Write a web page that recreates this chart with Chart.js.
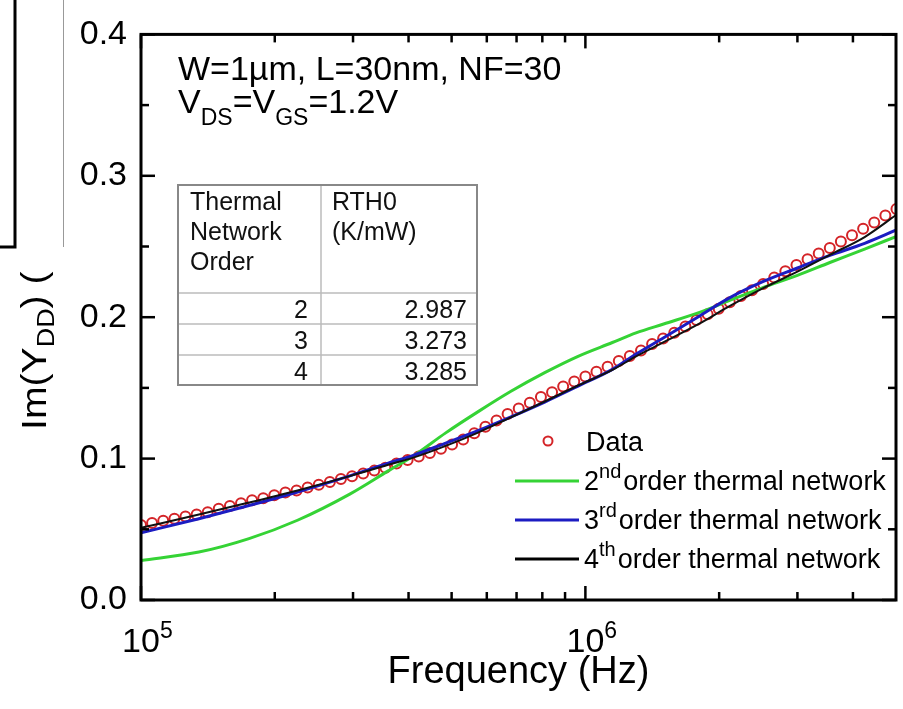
<!DOCTYPE html>
<html>
<head>
<meta charset="utf-8">
<script src="https://cdn.jsdelivr.net/npm/chart.js@4.4.0/dist/chart.umd.min.js"></script>
<style>
  html, body { margin: 0; padding: 0; background: #fff; }
  #wrap { width: 903px; height: 709px; }
</style>
</head>
<body>
<div id="wrap"><canvas id="chart" width="903" height="709"></canvas></div>
<script>
const FONT = '"Liberation Sans", Arial, Helvetica, sans-serif';

// measured points (Hz, mS)
const dataFreq = [
  1.000e5, 1.059e5, 1.122e5, 1.189e5, 1.259e5, 1.334e5, 1.413e5, 1.496e5, 1.585e5, 1.679e5,
  1.778e5, 1.884e5, 1.995e5, 2.113e5, 2.239e5, 2.371e5, 2.512e5, 2.661e5, 2.818e5, 2.985e5,
  3.162e5, 3.350e5, 3.548e5, 3.758e5, 3.981e5, 4.217e5, 4.467e5, 4.732e5, 5.012e5, 5.309e5,
  5.623e5, 5.957e5, 6.310e5, 6.683e5, 7.079e5, 7.499e5, 7.943e5, 8.414e5, 8.913e5, 9.441e5,
  1.000e6, 1.059e6, 1.122e6, 1.189e6, 1.259e6, 1.334e6, 1.413e6, 1.496e6, 1.585e6, 1.679e6,
  1.778e6, 1.884e6, 1.995e6, 2.113e6, 2.239e6, 2.371e6, 2.512e6, 2.661e6, 2.818e6, 2.985e6,
  3.162e6, 3.350e6, 3.548e6, 3.758e6, 3.981e6, 4.217e6, 4.467e6, 4.732e6, 5.012e6
];
const dataIm = [
  0.053, 0.0545, 0.056, 0.0575, 0.059, 0.0605, 0.062, 0.0645, 0.0665, 0.0685,
  0.0705, 0.072, 0.074, 0.076, 0.0775, 0.0795, 0.0815, 0.0835, 0.0855, 0.0875,
  0.0895, 0.0915, 0.0935, 0.0965, 0.099, 0.1015, 0.104, 0.107, 0.110, 0.1135,
  0.118, 0.1225, 0.127, 0.1315, 0.1355, 0.1395, 0.1435, 0.147, 0.151, 0.1545,
  0.158, 0.1615, 0.165, 0.169, 0.1725, 0.1765, 0.181, 0.185, 0.189, 0.1935,
  0.198, 0.202, 0.206, 0.2105, 0.215, 0.219, 0.2235, 0.228, 0.2325, 0.237,
  0.241, 0.245, 0.249, 0.2535, 0.258, 0.2625, 0.267, 0.272, 0.2765
];

// fitted curves
const fitFreq = [
  1.0e5, 1.35e5, 1.75e5, 2.25e5, 2.95e5, 3.6e5, 4.1e5, 4.85e5, 5.75e5, 6.8e5, 8.1e5,
  9.6e5, 1.15e6, 1.3e6, 1.5e6, 1.8e6, 2.1e6, 2.5e6, 3.0e6, 3.55e6, 4.25e6, 5.0e6
];
const fit2nd = [
  0.028, 0.0339, 0.0434, 0.0564, 0.0749, 0.0913, 0.1019, 0.1182, 0.1334, 0.1476, 0.1608,
  0.1722, 0.1821, 0.1889, 0.1952, 0.2032, 0.2115, 0.2207, 0.2296, 0.2387, 0.2482, 0.2570
];
const fit3rd = [
  0.0475, 0.0575, 0.0668, 0.0764, 0.0878, 0.0968, 0.1023, 0.1110, 0.1199, 0.1295, 0.1400,
  0.1511, 0.1631, 0.1739, 0.1855, 0.2005, 0.2133, 0.2249, 0.2348, 0.2437, 0.2522, 0.2615
];
const fit4th = [
  0.051, 0.0604, 0.0689, 0.0775, 0.0876, 0.0956, 0.1007, 0.1090, 0.1186, 0.1292, 0.1404,
  0.1515, 0.1627, 0.1723, 0.1823, 0.1952, 0.2074, 0.2202, 0.2322, 0.2441, 0.2567, 0.2722
];

const yMajor = [0, 0.1, 0.2, 0.3, 0.4];
const yMinor = [0.05, 0.15, 0.25, 0.35];
const xMajor = [1e5, 1e6];
const xExp = ['5', '6'];
const xMinor = [2e5, 3e5, 4e5, 5e5, 6e5, 7e5, 8e5, 9e5, 2e6, 3e6, 4e6];

const tableOrders = ['2', '3', '4'];
const tableRth = ['2.987', '3.273', '3.285'];

const legendSup = ['nd', 'rd', 'th'];
const legendNum = ['2', '3', '4'];

const toXY = (xs, ys) => xs.map((x, i) => ({ x: x, y: ys[i] }));

// draws a row of text pieces, each {t, size, dy}
function drawRuns(ctx, x, y, runs) {
  runs.forEach(r => {
    ctx.font = r.size + 'px ' + FONT;
    ctx.fillText(r.t, x, y + (r.dy || 0));
    x += ctx.measureText(r.t).width + (r.gap || 0);
  });
  return x;
}

const decor = {
  id: 'decor',
  afterDraw(chart) {
    const ctx = chart.ctx;
    const a = chart.chartArea;
    const xs = chart.scales.x;
    const ys = chart.scales.y;
    ctx.save();
    ctx.fillStyle = '#000';
    ctx.strokeStyle = '#000';

    // frame
    ctx.lineWidth = 3;
    ctx.strokeRect(a.left, a.top, a.right - a.left, a.bottom - a.top);

    // inward ticks on all sides
    const seg = (x1, y1, x2, y2) => { ctx.beginPath(); ctx.moveTo(x1, y1); ctx.lineTo(x2, y2); ctx.stroke(); };
    ctx.lineWidth = 2.5;
    xMajor.forEach(v => { const p = xs.getPixelForValue(v); seg(p, a.bottom, p, a.bottom - 14); seg(p, a.top, p, a.top + 14); });
    xMinor.forEach(v => { const p = xs.getPixelForValue(v); seg(p, a.bottom, p, a.bottom - 8); seg(p, a.top, p, a.top + 8); });
    yMajor.forEach(v => { const p = ys.getPixelForValue(v); seg(a.left, p, a.left + 14, p); seg(a.right, p, a.right - 14, p); });
    yMinor.forEach(v => { const p = ys.getPixelForValue(v); seg(a.left, p, a.left + 8, p); seg(a.right, p, a.right - 8, p); });

    // x tick labels 10^n
    ctx.textBaseline = 'alphabetic';
    ctx.textAlign = 'left';
    xMajor.forEach((v, i) => {
      const p = xs.getPixelForValue(v);
      ctx.font = '34px ' + FONT;
      const w = ctx.measureText('10').width;
      drawRuns(ctx, p - w / 2, 652, [{ t: '10', size: 34 }, { t: xExp[i], size: 23, dy: -14 }]);
    });

    // y axis title, partly hidden under the box at top-left
    ctx.save();
    ctx.translate(46, 430);
    ctx.rotate(-Math.PI / 2);
    ctx.scale(1.12, 1);
    drawRuns(ctx, 0, 0, [
      { t: 'Im(Y', size: 35 }, { t: 'DD', size: 24, dy: 8 }, { t: ') (mS)', size: 35 }
    ]);
    ctx.restore();
    ctx.fillStyle = '#fff';
    ctx.fillRect(0, 0, 66, 270);
    ctx.fillStyle = '#000';
    ctx.lineWidth = 3;
    ctx.beginPath(); ctx.moveTo(15, 0); ctx.lineTo(15, 247); ctx.lineTo(0, 247); ctx.stroke();
    ctx.strokeStyle = '#999';
    ctx.lineWidth = 1;
    seg(63.5, 0, 63.5, 247);
    ctx.strokeStyle = '#000';

    // device annotation
    drawRuns(ctx, 178, 80, [{ t: 'W=1\u00b5m, L=30nm, NF=30', size: 34 }]);
    drawRuns(ctx, 178, 113, [
      { t: 'V', size: 34 }, { t: 'DS', size: 23, dy: 12 }, { t: '=V', size: 34 },
      { t: 'GS', size: 23, dy: 12 }, { t: '=1.2V', size: 34 }
    ]);

    // RTH0 table
    const tl = 178, tm = 321, tr = 477;
    const rowsY = [185, 293, 324, 355, 385];
    ctx.fillStyle = '#fff';
    ctx.fillRect(tl, rowsY[0], tr - tl, rowsY[4] - rowsY[0]);
    ctx.strokeStyle = '#bbb';
    ctx.lineWidth = 1.5;
    seg(tm, rowsY[0], tm, rowsY[4]);
    for (let i = 1; i < 4; i++) seg(tl, rowsY[i], tr, rowsY[i]);
    ctx.strokeStyle = '#888';
    ctx.lineWidth = 2;
    ctx.strokeRect(tl, rowsY[0], tr - tl, rowsY[4] - rowsY[0]);
    ctx.fillStyle = '#111';
    ctx.font = '25px ' + FONT;
    ctx.textAlign = 'left';
    ['Thermal', 'Network', 'Order'].forEach((s, i) => ctx.fillText(s, 190, 210 + i * 30));
    ['RTH0', '(K/mW)'].forEach((s, i) => ctx.fillText(s, 332, 210 + i * 30));
    ctx.textAlign = 'right';
    tableOrders.forEach((s, i) => ctx.fillText(s, 308, 318 + i * 31));
    tableRth.forEach((s, i) => ctx.fillText(s, 467, 318 + i * 31));
    ctx.textAlign = 'left';

    // legend
    ctx.fillStyle = '#000';
    ctx.strokeStyle = '#d42428';
    ctx.lineWidth = 2;
    ctx.beginPath(); ctx.arc(548, 441, 4.5, 0, Math.PI * 2); ctx.stroke();
    drawRuns(ctx, 586, 451, [{ t: 'Data', size: 27 }]);
    const legCol = ['#35d335', '#1c1cc2', '#000'];
    const legY = [481, 520, 559];
    legY.forEach((y, i) => {
      ctx.strokeStyle = legCol[i];
      ctx.lineWidth = 3;
      seg(515, y, 579, y);
      drawRuns(ctx, 584, y + 9, [
        { t: legendNum[i], size: 27 }, { t: legendSup[i], size: 20, dy: -12, gap: 2 },
        { t: 'order thermal network', size: 27 }
      ]);
    });
    ctx.restore();
  }
};

new Chart(document.getElementById('chart'), {
  type: 'line',
  data: {
    datasets: [
      {
        label: 'Data', data: toXY(dataFreq, dataIm), showLine: false,
        pointRadius: 5, pointBorderWidth: 2, pointBorderColor: '#d42428',
        pointBackgroundColor: 'rgba(0,0,0,0)', order: 3
      },
      {
        label: '2nd order thermal network', data: toXY(fitFreq, fit2nd),
        borderColor: '#35d335', borderWidth: 3, pointRadius: 0,
        cubicInterpolationMode: 'monotone', order: 2
      },
      {
        label: '3rd order thermal network', data: toXY(fitFreq, fit3rd),
        borderColor: '#1c1cc2', borderWidth: 3, pointRadius: 0,
        cubicInterpolationMode: 'monotone', order: 1
      },
      {
        label: '4th order thermal network', data: toXY(fitFreq, fit4th),
        borderColor: '#111', borderWidth: 2, pointRadius: 0,
        cubicInterpolationMode: 'monotone', order: 0
      }
    ]
  },
  options: {
    responsive: false,
    animation: false,
    layout: { padding: { top: 25, right: 5, left: 0, bottom: 0 } },
    plugins: { legend: { display: false }, tooltip: { enabled: false } },
    scales: {
      x: {
        type: 'logarithmic', min: 1e5, max: 5e6,
        grid: { display: false }, border: { display: false },
        ticks: { display: false },
        title: {
          display: true, text: 'Frequency (Hz)', color: '#000',
          font: { family: FONT, size: 38 }, padding: { top: 0, bottom: 14 }
        },
        afterFit(s) { s.height = 109; }
      },
      y: {
        min: 0, max: 0.4,
        grid: { display: false, drawTicks: false }, border: { display: false },
        ticks: {
          stepSize: 0.1, padding: 14, color: '#000',
          font: { family: FONT, size: 34 },
          callback: v => v.toFixed(1)
        },
        afterFit(s) { s.width = 141; }
      }
    }
  },
  plugins: [decor]
});
</script>
</body>
</html>
